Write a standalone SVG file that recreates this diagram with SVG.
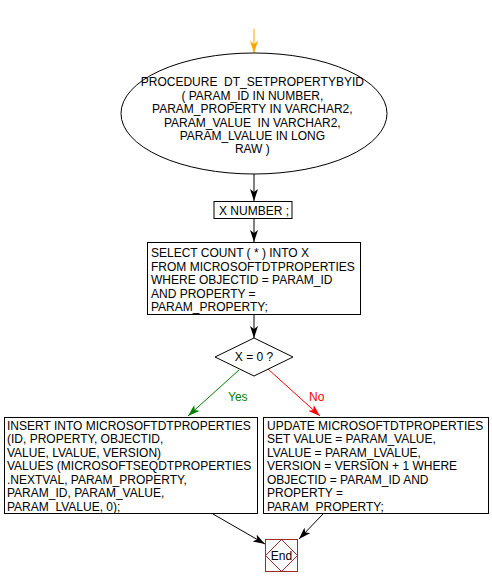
<svg xmlns="http://www.w3.org/2000/svg" width="492" height="585" viewBox="0 0 492 585">
<defs>
<style>
text{font-family:"Liberation Sans",Arial,sans-serif;font-size:12px;fill:#000;white-space:pre}
.box{fill:#fff;stroke:#000;stroke-width:1}
.c{fill:none;stroke-width:1}
</style>
<marker id="ab" viewBox="0 0 12 8" refX="12" refY="4" markerWidth="12" markerHeight="8" markerUnits="userSpaceOnUse" orient="auto"><path d="M0,0 L12,4 L0,8 L3,4 z" fill="#000"/></marker>
<marker id="ao" viewBox="0 0 12 8" refX="12" refY="4" markerWidth="13" markerHeight="8" markerUnits="userSpaceOnUse" orient="auto"><path d="M0,0 L12,4 L0,8 L3,4 z" fill="#FFA500"/></marker>
<marker id="ag" viewBox="0 0 12 8" refX="12" refY="4" markerWidth="12" markerHeight="8" markerUnits="userSpaceOnUse" orient="auto"><path d="M0,0 L12,4 L0,8 L3,4 z" fill="#008000"/></marker>
<marker id="ar" viewBox="0 0 12 8" refX="12" refY="4" markerWidth="12" markerHeight="8" markerUnits="userSpaceOnUse" orient="auto"><path d="M0,0 L12,4 L0,8 L3,4 z" fill="#FF0000"/></marker>
</defs>
<rect width="492" height="585" fill="#fff"/>
<g id="connectors">
<line class="c" x1="254" y1="29" x2="254" y2="53" stroke="#FFA500" marker-end="url(#ao)"/>
<line class="c" x1="254" y1="174" x2="254" y2="201" stroke="#000" marker-end="url(#ab)"/>
<line class="c" x1="254" y1="218" x2="254" y2="242" stroke="#000" marker-end="url(#ab)"/>
<line class="c" x1="254" y1="314" x2="254" y2="338" stroke="#000" marker-end="url(#ab)"/>
<line class="c" x1="239" y1="370" x2="188" y2="416" stroke="#008000" marker-end="url(#ag)"/>
<text x="228" y="401" style="fill:#008000">Yes</text>
<line class="c" x1="268" y1="369" x2="320" y2="416" stroke="#FF0000" marker-end="url(#ar)"/>
<text x="309" y="401" style="fill:#FF0000">No</text>
<line class="c" x1="213" y1="514" x2="265" y2="544" stroke="#000" marker-end="url(#ab)"/>
<line class="c" x1="323" y1="514" x2="299" y2="539" stroke="#000" marker-end="url(#ab)"/>
</g>
<g id="start">
<ellipse cx="254" cy="113.5" rx="133" ry="60.5" class="box"/>
<text text-anchor="middle">
<tspan x="254" y="86">PROCEDURE  DT_SETPROPERTYBYID</tspan>
<tspan x="254" y="99.5">( PARAM_ID IN NUMBER,</tspan>
<tspan x="254" y="113">PARAM_PROPERTY IN VARCHAR2,</tspan>
<tspan x="254" y="126.5">PARAM_VALUE  IN VARCHAR2,</tspan>
<tspan x="254" y="140">PARAM_LVALUE IN LONG</tspan>
<tspan x="254" y="153">RAW )</tspan>
</text>
</g>
<g id="decl">
<rect x="214" y="201.5" width="78" height="17" class="box"/>
<text x="219" y="215">X NUMBER ;</text>
</g>
<g id="select">
<rect x="147.5" y="242.5" width="213" height="72" class="box"/>
<text>
<tspan x="151" y="257">SELECT COUNT ( * ) INTO X</tspan>
<tspan x="151" y="270.5">FROM MICROSOFTDTPROPERTIES</tspan>
<tspan x="151" y="284">WHERE OBJECTID = PARAM_ID</tspan>
<tspan x="151" y="297.5">AND PROPERTY =</tspan>
<tspan x="151" y="311">PARAM_PROPERTY;</tspan>
</text>
</g>
<g id="cond">
<polygon points="254,338 293,357 254,376 215,357" class="box"/>
<text x="254" y="361" text-anchor="middle">X = 0 ?</text>
</g>
<g id="insert">
<rect x="4.5" y="417.5" width="253" height="96" class="box"/>
<text>
<tspan x="7" y="429.5">INSERT INTO MICROSOFTDTPROPERTIES</tspan>
<tspan x="7" y="443">(ID, PROPERTY, OBJECTID,</tspan>
<tspan x="7" y="456.5">VALUE, LVALUE, VERSION)</tspan>
<tspan x="7" y="470">VALUES (MICROSOFTSEQDTPROPERTIES</tspan>
<tspan x="7" y="483.5">.NEXTVAL, PARAM_PROPERTY,</tspan>
<tspan x="7" y="497">PARAM_ID, PARAM_VALUE,</tspan>
<tspan x="7" y="510.5">PARAM_LVALUE, 0);</tspan>
</text>
</g>
<g id="update">
<rect x="263.5" y="417.5" width="225" height="96" class="box"/>
<text>
<tspan x="267" y="429.5">UPDATE MICROSOFTDTPROPERTIES</tspan>
<tspan x="267" y="443">SET VALUE = PARAM_VALUE,</tspan>
<tspan x="267" y="456.5">LVALUE = PARAM_LVALUE,</tspan>
<tspan x="267" y="470">VERSION = VERSION + 1 WHERE</tspan>
<tspan x="267" y="483.5">OBJECTID = PARAM_ID AND</tspan>
<tspan x="267" y="497">PROPERTY =</tspan>
<tspan x="267" y="510.5">PARAM_PROPERTY;</tspan>
</text>
</g>
<g id="end">
<rect x="265.5" y="539.5" width="32" height="32" fill="#fff" stroke="#A52A2A"/>
<polygon points="281.5,539.5 297.5,555.5 281.5,571.5 265.5,555.5" fill="none" stroke="#A52A2A"/>
<text x="281.5" y="560" text-anchor="middle">End</text>
</g>
</svg>
